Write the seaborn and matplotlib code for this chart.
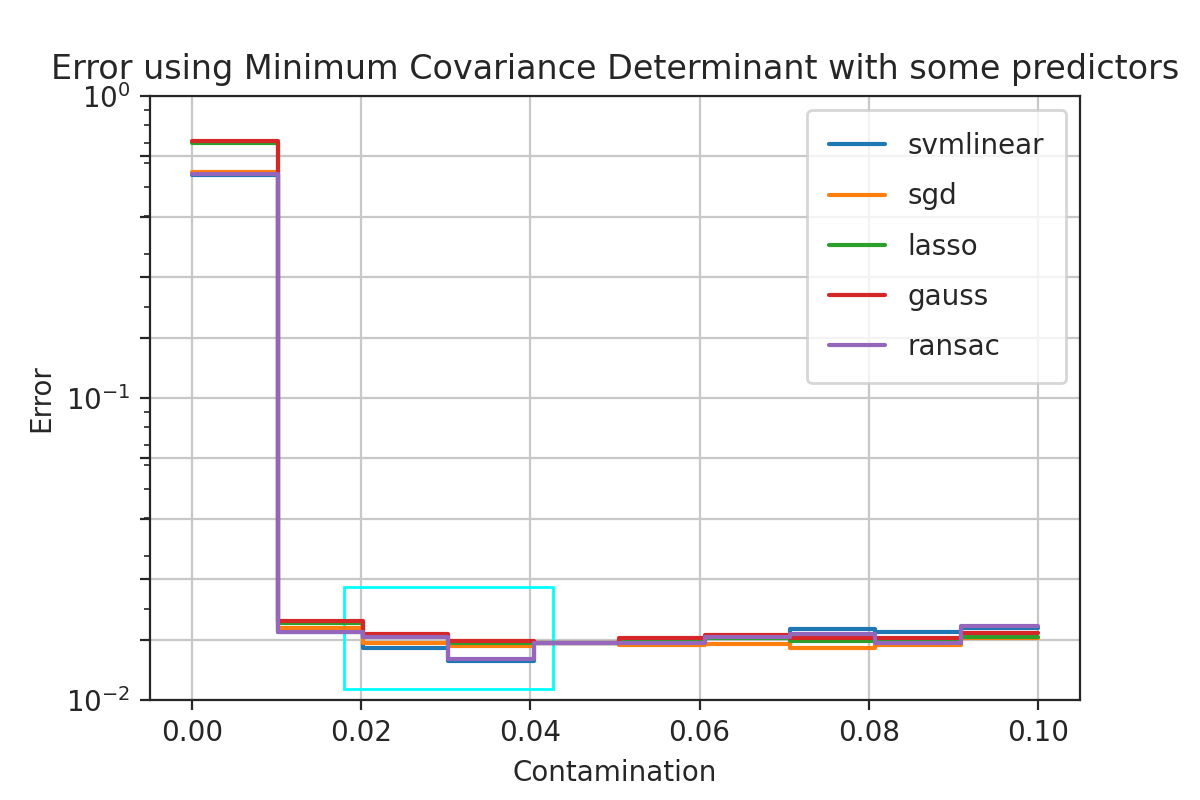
import numpy as np
import pandas as pd
import matplotlib
matplotlib.use("Agg")
import matplotlib.pyplot as plt
import matplotlib.ticker as mticker
from matplotlib.patches import Rectangle
import seaborn as sns

sns.set_style("ticks")
plt.rcParams['font.family'] = ['DejaVu Sans']

names = ["svmlinear", "sgd", "lasso", "gauss", "ransac"]
svmlinear = [0.547, 0.01674, 0.01491, 0.01348, 0.0154, 0.0154, 0.0160, 0.01717, 0.01682, 0.01735]
sgd = [0.561, 0.01735, 0.01547, 0.01514, 0.0154, 0.01524, 0.01537, 0.01491, 0.01522, 0.0161]
lasso = [0.70, 0.01800, 0.0163, 0.0155, 0.0154, 0.0158, 0.0160, 0.01565, 0.0157, 0.01617]
gauss = [0.71, 0.01828, 0.01659, 0.01565, 0.0155, 0.01610, 0.01644, 0.01610, 0.01600, 0.01668]
ransac = [0.552, 0.01674, 0.01612, 0.01367, 0.0154, 0.01544, 0.01622, 0.01659, 0.01547, 0.01762]
series = [svmlinear, sgd, lasso, gauss, ransac]

# 100 contamination levels, 10 per block
contamination = np.linspace(0, 0.1, 100)
rows = []
for name, vals in zip(names, series):
    for i, c in enumerate(contamination):
        rows.append({"Contamination": c, "Error": vals[min(i // 10, 9)], "model": name})
df = pd.DataFrame(rows)

fig, ax = plt.subplots(figsize=(6, 4), dpi=200)
sns.lineplot(data=df, x="Contamination", y="Error", hue="model", palette="tab10",
             drawstyle="steps-post", linewidth=1.5, ax=ax)
ax.set_yscale("log")
ax.set_ylim(0.01, 1)
ax.yaxis.set_major_locator(mticker.FixedLocator(10 ** np.arange(-2, 0.01, 0.2)))
ax.yaxis.set_major_formatter(mticker.FuncFormatter(
    lambda v, p: f"$10^{{{int(round(np.log10(v)))}}}$" if abs(np.log10(v) - round(np.log10(v))) < 1e-6 else ""))
ax.grid(True, color="#c8c8c8", linewidth=0.8)
ax.add_patch(Rectangle((0.018, 0.01087), 0.0247, 0.02366 - 0.01087,
                       fill=False, edgecolor="cyan", linewidth=1))
ax.set_title("Error using Minimum Covariance Determinant with some predictors")
ax.set_xlabel("Contamination")
ax.set_ylabel("Error")
ax.legend(loc="upper right", borderpad=0.8, labelspacing=0.8)
fig.subplots_adjust(left=0.125, right=0.9, top=0.88, bottom=0.125)
fig.savefig("out.png", dpi=200)
